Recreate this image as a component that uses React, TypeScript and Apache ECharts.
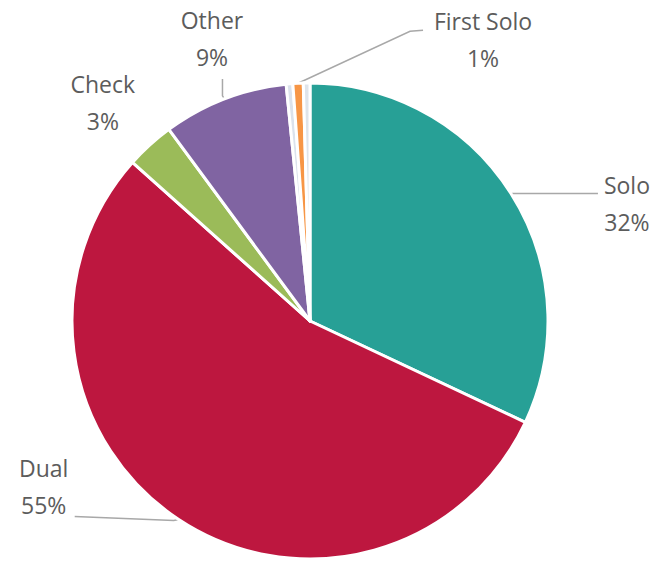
import React, { useEffect, useRef } from "react";
import * as echarts from "echarts";

const categories = ["Solo", "Dual", "Check", "Other", "", "First Solo", " "];
const values = [32.0, 54.6, 3.3, 8.5, 0.45, 0.7, 0.45];
const colors = ["#27a096", "#bd173f", "#9bbb59", "#8064a2", "#dbe2ec", "#f79646", "#dfe4ea"];
const showLabel = [true, true, true, true, false, true, false];

// label tweaks: bend/end offsets of the leader line, text offsets from line end
const LABEL_TUNING: Record<number, { bend: number[]; end: number[]; tx: number; ty: number; line: boolean }> = {
  0: { bend: [4, 0], end: [83, 0], tx: 29, ty: -27, line: true },
  1: { bend: [-5, 1], end: [-99, -4], tx: -31, ty: -67.5, line: true },
  2: { bend: [0, 0], end: [0, 0], tx: -47, ty: -79, line: false },
  3: { bend: [-2, -3], end: [0, -17], tx: -10.5, ty: -77, line: true },
  5: { bend: [112, -52], end: [13, -1], tx: 60, ty: -27.5, line: true },
};

export default function App() {
  const ref = useRef<HTMLDivElement>(null);
  useEffect(() => {
    if (!ref.current) return;
    const chart = echarts.init(ref.current, null, { renderer: "svg" });
    chart.setOption({
      animation: false,
      backgroundColor: "#ffffff",
      series: [
        {
          type: "pie",
          center: [310, 321],
          radius: 238,
          startAngle: 90,
          clockwise: true,
          avoidLabelOverlap: false,
          itemStyle: { borderColor: "#ffffff", borderWidth: 3 },
          label: {
            show: true,
            position: "outside",
            formatter: (p: any) => `${p.name}\n${Math.round(p.percent)}%`,
            fontFamily: "Open Sans",
            fontSize: 23,
            lineHeight: 37,
            color: "#5c5c5c",
          },
          labelLine: {
            show: true,
            length: 10,
            length2: 10,
            smooth: false,
            lineStyle: { color: "#a8a8a8", width: 1.5 },
          },
          labelLayout: (p: any) => {
            const o = LABEL_TUNING[p.dataIndex];
            if (!o || !p.labelLinePoints) return {};
            const s = p.labelLinePoints[0];
            const b = [s[0] + o.bend[0], s[1] + o.bend[1]];
            const e = [b[0] + o.end[0], b[1] + o.end[1]];
            return {
              x: e[0] + o.tx,
              y: e[1] + o.ty,
              align: "center",
              verticalAlign: "top",
              labelLinePoints: o.line ? [s, b, e] : [s, s, s],
            };
          },
          data: categories.map((name, i) => ({
            name,
            value: values[i],
            itemStyle: { color: colors[i] },
            label: { show: showLabel[i] },
            labelLine: { show: showLabel[i] },
          })),
        },
      ],
    });
    return () => chart.dispose();
  }, []);
  return (
    <div
      ref={ref}
      style={{ position: "fixed", left: 0, top: 0, width: 658, height: 562 }}
    />
  );
}
